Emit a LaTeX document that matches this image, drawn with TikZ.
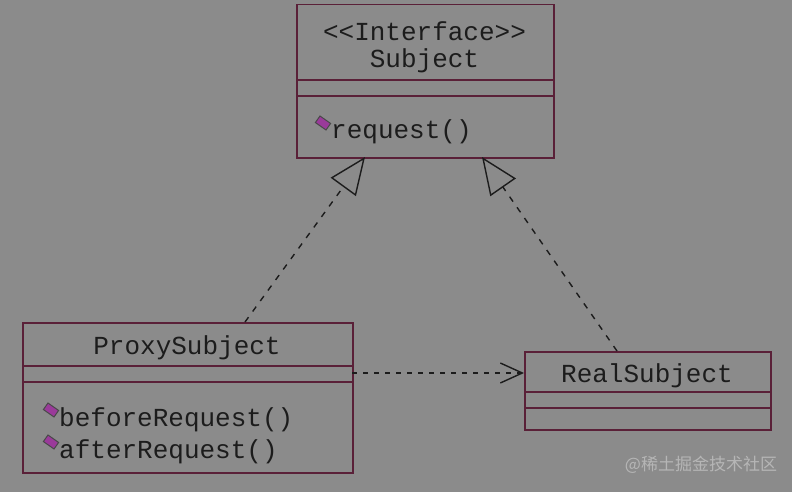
\documentclass[tikz,border=0pt]{standalone}
\usepackage{fontspec}
\setmonofont{Liberation Mono}
\newfontfamily\cjk{Noto Sans CJK SC}
\usetikzlibrary{arrows.meta}
\definecolor{bg}{HTML}{8B8B8B}
\definecolor{frame}{HTML}{5A2038}
\definecolor{ink}{HTML}{1C1C1C}
\definecolor{gem}{HTML}{9A3A9A}
\definecolor{wm}{HTML}{B6B6B6}
\begin{document}
\begin{tikzpicture}[x=1pt,y=-1pt,
  cls/.style={draw=frame,line width=1.5pt,anchor=north west,inner sep=0pt},
  sep/.style={draw=frame,line width=1.5pt},
  lbl/.style={font=\ttfamily\fontsize{26}{26}\selectfont,text=ink,inner sep=0pt},
  gemmark/.style={draw=ink!80,line width=1pt,fill=gem,minimum width=13pt,minimum height=8pt,inner sep=0pt,rotate=-35},
  realize/.style={draw=ink,line width=1.4pt,dash pattern=on 6pt off 7pt,-{Triangle[open,length=37pt,width=31pt,line width=1.4pt]}},
  depend/.style={draw=ink,line width=1.4pt,dash pattern=on 5pt off 6pt,-{Straight Barb[length=22pt,width=20pt,line width=1.4pt]}}
]
\fill[bg] (0,0) rectangle (792,492);
\useasboundingbox (0,0) rectangle (792,492);

% Subject
\node[cls,minimum width=257pt,minimum height=153pt] (subj) at (296,4) {};
\draw[sep] (296,80) -- (553,80);
\draw[sep] (296,96) -- (553,96);
\node[lbl] (subjst) at (424.5,31) {<{}<Interface>{}>};
\node[lbl] (subjname) at (424.5,61) {Subject};
\node[gemmark] (g1) at (323,123) {};
\node[lbl,anchor=west] (req) at (331,132) {request()};

% ProxySubject
\node[cls,minimum width=330pt,minimum height=150pt] (proxy) at (22,322) {};
\draw[sep] (22,366) -- (352,366);
\draw[sep] (22,382) -- (352,382);
\node[lbl] (proxyname) at (187,348) {ProxySubject};
\node[gemmark] (g2) at (51,410) {};
\node[lbl,anchor=west] (before) at (59,420) {beforeRequest()};
\node[gemmark] (g3) at (51,442) {};
\node[lbl,anchor=west] (after) at (59,452) {afterRequest()};

% RealSubject
\node[cls,minimum width=246pt,minimum height=78pt] (real) at (524,351) {};
\draw[sep] (524,392) -- (770,392);
\draw[sep] (524,408) -- (770,408);
\node[lbl] (realname) at (647,376) {RealSubject};

% connectors
\coordinate (pt) at (245,322);
\coordinate (st1) at (365,157);
\coordinate (rt) at (617,351);
\coordinate (st2) at (482,157);
\coordinate (pr) at (352,373);
\coordinate (rl) at (524,373);
\draw[realize] (pt) -- (st1);
\draw[realize] (rt) -- (st2);
\draw[depend] (pr) -- (rl);

\node[font=\cjk\fontsize{17}{17}\selectfont,text=wm,inner sep=0pt] (wmark) at (701,465) {@稀土掘金技术社区};
\end{tikzpicture}
\end{document}
